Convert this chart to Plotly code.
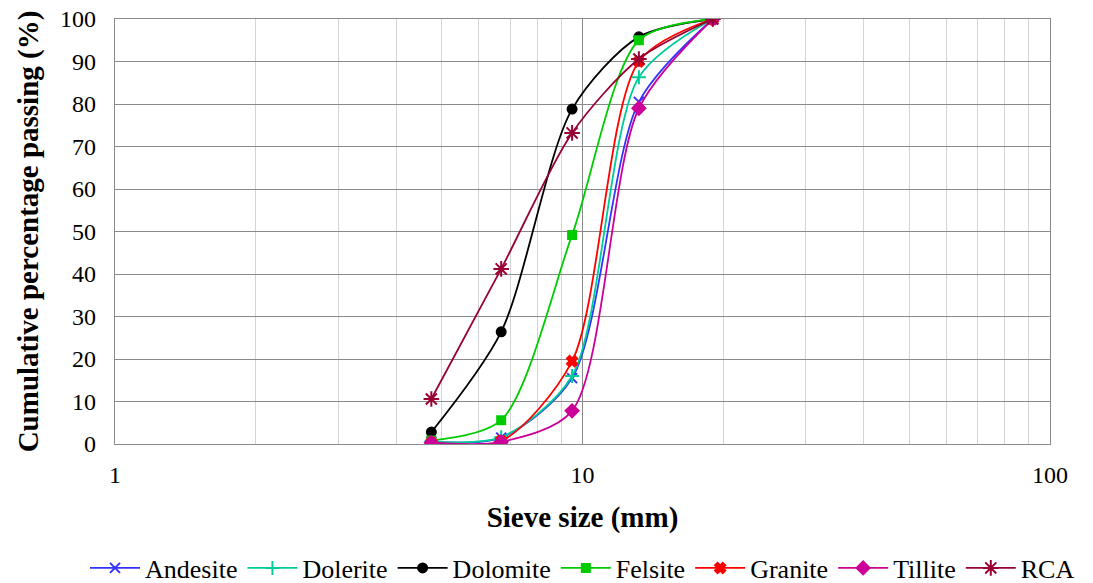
import plotly.graph_objects as go

sieve = [4.75, 6.7, 9.5, 13.2, 19]
andesite = [0.5, 1.5, 15.5, 80.5, 100]
dolerite = [0.6, 1.6, 16.0, 86.3, 100]
dolomite = [2.8, 26.4, 78.8, 95.8, 100]
felsite = [0.8, 5.6, 49.2, 95.0, 100]
granite = [0.3, 0.7, 19.5, 90.0, 100]
tillite = [0.3, 0.5, 7.8, 79.0, 100]
rca = [10.6, 41.2, 73.2, 90.6, 100]

series = [
    ("Andesite", andesite, "#3333FF", "x-thin-open", 10),
    ("Dolerite", dolerite, "#00CC99", "cross-thin-open", 10),
    ("Dolomite", dolomite, "#000000", "circle", 9),
    ("Felsite", felsite, "#00CC00", "square", 8),
    ("Granite", granite, "#FF0000", "x", 9),
    ("Tillite", tillite, "#CC0099", "diamond", 10),
    ("RCA", rca, "#990033", "asterisk-open", 13),
]

fig = go.Figure()
for name, vals, col, sym, sz in series:
    fig.add_trace(go.Scatter(
        x=sieve, y=vals, name=name, mode="lines+markers",
        line=dict(color=col, width=1.8, shape="spline", smoothing=0.8),
        marker=dict(symbol=sym, size=sz, color=col, line=dict(color=col, width=2)),
    ))

FAM = "Times New Roman, Liberation Serif, Tinos, serif"
W, H = 1093, 583
PL, PR = 115, 1050

fig.update_layout(
    width=W, height=H,
    margin=dict(l=0, r=0, t=19, b=139),
    paper_bgcolor="white", plot_bgcolor="white",
    font=dict(family=FAM, size=24, color="black"),
    showlegend=True,
    legend=dict(orientation="h", x=(PL + PR) / 2 / W, xanchor="center", xref="container",
                y=(H - 568) / H, yanchor="middle", yref="container",
                font=dict(family=FAM, size=26, color="black"), tracegroupgap=0, itemwidth=50),
    xaxis=dict(
        type="log", range=[0, 2], dtick=1, automargin=False, domain=[PL / W, PR / W],
        title=dict(text="<b>Sieve size (mm)</b>", font=dict(family=FAM, size=29, color="black"), standoff=19),
        showgrid=True, gridcolor="#8a8a8a", gridwidth=1.3,
        showline=True, linecolor="#8a8a8a", linewidth=1.3, mirror=True,
        ticks="", tickfont=dict(family=FAM, size=24, color="black"), ticklabelstandoff=9,
        minor=dict(dtick="D1", showgrid=True, gridcolor="#d4d4d4", gridwidth=1.3),
        zeroline=False,
    ),
    yaxis=dict(
        range=[0, 100], dtick=10, automargin=False,
        title=dict(text="<b>Cumulative percentage passing (%)</b>", font=dict(family=FAM, size=29, color="black"), standoff=12),
        showgrid=True, gridcolor="#8a8a8a", gridwidth=1.3,
        showline=True, linecolor="#8a8a8a", linewidth=1.3, mirror=True,
        ticks="", tickfont=dict(family=FAM, size=24, color="black"), ticklabelstandoff=13,
        zeroline=False,
    ),
)
fig.write_html("out.html")
